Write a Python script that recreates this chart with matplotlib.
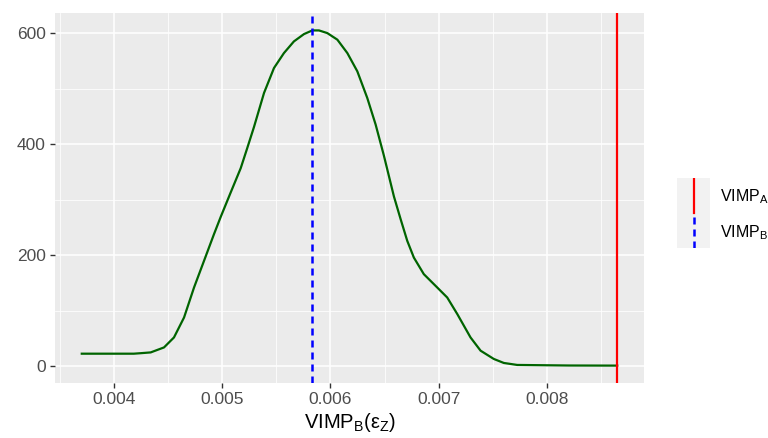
import matplotlib
matplotlib.use("Agg")
import matplotlib.pyplot as plt

plt.rcParams["font.family"] = ["Liberation Sans", "DejaVu Sans"]
plt.rcParams["mathtext.fontset"] = "custom"
plt.rcParams["mathtext.rm"] = "Liberation Sans"
plt.rcParams["mathtext.default"] = "regular"

# density curve
dens_x = [0.003705, 0.004185, 0.004249, 0.004341, 0.004464, 0.004556, 0.004649,
          0.004741, 0.004833, 0.004925, 0.004987, 0.005079, 0.005172, 0.005233,
          0.005294, 0.005387, 0.005479, 0.005571, 0.005663, 0.005756, 0.005833,
          0.005894, 0.005971, 0.006064, 0.006156, 0.006248, 0.006340, 0.006417,
          0.006493, 0.006586, 0.006648, 0.006709, 0.006770, 0.006862,
          0.006986, 0.007078, 0.007171, 0.007293, 0.007386, 0.007508, 0.007600,
          0.007724, 0.008200, 0.008647]
dens_y = [22.5, 22.5, 23.4, 24.8, 33.8, 51.8, 87.8,
          141.8, 189.8, 237.9, 269.0, 313.0, 357.0, 393.7,
          431.0, 492.6, 537.6, 564.6, 585.6, 598.8, 605.4,
          605.4, 600.6, 588.7, 564.6, 531.7, 483.6, 435.8,
          380.0, 306.0, 265.0, 226.0, 195.8, 165.9,
          141.8, 123.8, 93.9, 51.8, 27.9, 13.0, 5.8,
          2.2, 1.2, 1.0]

vimp_a = 0.008647
vimp_b = 0.005833

x_ticks = [0.004, 0.005, 0.006, 0.007, 0.008]
x_minor = [0.0035, 0.0045, 0.0055, 0.0065, 0.0075, 0.0085]
y_ticks = [0, 200, 400, 600]
y_minor = [100, 300, 500]

fig = plt.figure(figsize=(7.68, 4.38), dpi=100)
ax = fig.add_axes([55 / 768, 1 - 383 / 438, 589 / 768, 370.3 / 438])
ax.set_facecolor("#EBEBEB")
for s in ax.spines.values():
    s.set_visible(False)

for v in x_minor:
    ax.axvline(v, color="white", lw=0.55, zorder=0)
for v in y_minor:
    ax.axhline(v, color="white", lw=0.55, zorder=0)
for v in x_ticks:
    ax.axvline(v, color="white", lw=1.1, zorder=0)
for v in y_ticks:
    ax.axhline(v, color="white", lw=1.1, zorder=0)

ax.plot(dens_x, dens_y, color="#006400", lw=1.6, zorder=3, solid_joinstyle="round")
ax.axvline(vimp_a, color="#FF0000", lw=1.6, zorder=4)
ax.axvline(vimp_b, color="#0000FF", lw=1.8, dashes=(2.8, 2.0), zorder=4)

span = vimp_a - dens_x[0]
ax.set_xlim(dens_x[0] - 0.05 * span, vimp_a + 0.05 * span)
ax.set_ylim(-0.05 * 607, 607 * 1.05)
ax.set_xticks(x_ticks)
ax.set_xticklabels(["0.004", "0.005", "0.006", "0.007", "0.008"])
ax.set_yticks(y_ticks)
ax.tick_params(axis="both", length=3.5, width=1.0, color="#333333",
               labelcolor="#4D4D4D", labelsize=12.5, pad=3)
ax.set_xlabel("VIMP$_\\mathregular{B}$(ε$_\\mathregular{Z}$)", fontsize=14.5,
              color="black", labelpad=3)

# legend keys
key = fig.add_axes([677 / 768, 1 - 248 / 438, 33 / 768, 70 / 438])
key.set_facecolor("#F2F2F2")
for s in key.spines.values():
    s.set_visible(False)
key.set_xticks([])
key.set_yticks([])
key.set_xlim(0, 1)
key.set_ylim(0, 1)
key.plot([0.5, 0.5], [0.5, 1.0], color="#FF0000", lw=1.6)
key.plot([0.5, 0.5], [0.0, 0.5], color="#0000FF", lw=1.8, dashes=(2.8, 2.0))

fig.text(720 / 768, 1 - 197 / 438, "VIMP$_\\mathregular{A}$", fontsize=11.5,
         va="center", ha="left")
fig.text(720 / 768, 1 - 233 / 438, "VIMP$_\\mathregular{B}$", fontsize=11.5,
         va="center", ha="left")

fig.savefig("out.png", dpi=100)
